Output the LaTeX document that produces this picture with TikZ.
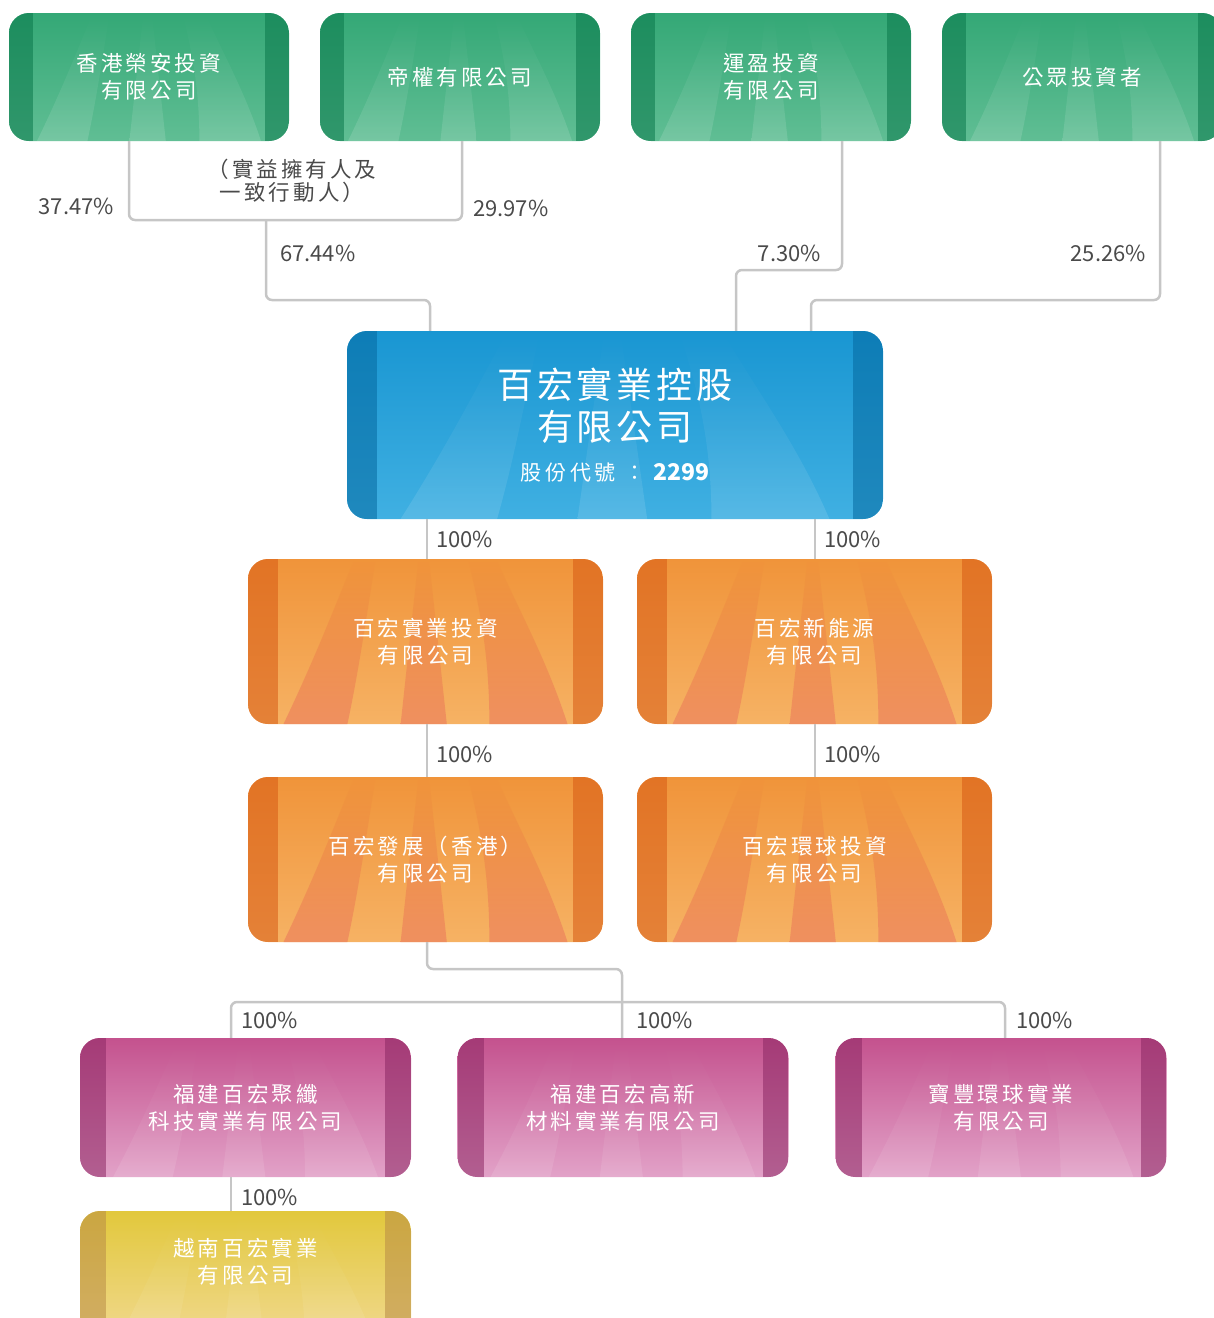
\documentclass[tikz,border=0pt]{standalone}
\usepackage{fontspec}
\setmainfont{Noto Sans CJK TC}
\newfontfamily\boxfont[LetterSpace=14]{Noto Sans CJK TC}
\newfontfamily\bigfont[LetterSpace=11]{Noto Sans CJK TC}
\newfontfamily\codefont[LetterSpace=18]{Noto Sans CJK TC}
\newfontfamily\numfont{Noto Sans CJK TC}
\definecolor{linegray}{HTML}{C6C6C6}
\definecolor{pctgray}{HTML}{4A4A4A}
\definecolor{grtop}{RGB}{52,168,118}
\definecolor{grbot}{RGB}{96,190,148}
\definecolor{grside}{RGB}{10,120,75}
\definecolor{bltop}{RGB}{25,150,210}
\definecolor{blbot}{RGB}{64,176,226}
\definecolor{blside}{RGB}{5,105,160}
\definecolor{ortop}{RGB}{240,148,58}
\definecolor{orbot}{RGB}{246,178,100}
\definecolor{orside}{RGB}{215,90,20}
\definecolor{orstreak}{RGB}{234,116,92}
\definecolor{pptop}{RGB}{196,82,142}
\definecolor{ppbot}{RGB}{226,162,200}
\definecolor{ppside}{RGB}{140,40,100}
\definecolor{yltop}{RGB}{226,200,60}
\definecolor{ylbot}{RGB}{242,218,150}
\definecolor{ylside}{RGB}{185,140,70}
\usetikzlibrary{positioning}
% #1 side colour, #2 streak colour, #3 streak opacity, #4 width, #5 height, #6 strip width, #7 top colour
\newcommand\threadfill[7]{%
  \coordinate (bl) at (path picture bounding box.south west);
  \coordinate (br) at (path picture bounding box.south east);
  \coordinate (tl) at (path picture bounding box.north west);
  \coordinate (tr) at (path picture bounding box.north east);
  \shade[sharp corners, top color=#7, bottom color=#2, opacity=#3]
    ([xshift=.10*#4pt]bl) .. controls ([xshift=.20*#4pt,yshift=.45*#5pt]bl) and ([xshift=.26*#4pt,yshift=.8*#5pt]bl) .. ([xshift=.30*#4pt]tl)
    -- ([xshift=.36*#4pt]tl) .. controls ([xshift=.33*#4pt,yshift=.6*#5pt]bl) and ([xshift=.31*#4pt,yshift=.3*#5pt]bl) .. ([xshift=.28*#4pt]bl) -- cycle;
  \shade[sharp corners, top color=#7, bottom color=#2, opacity=#3]
    ([xshift=.43*#4pt]bl) -- ([xshift=.48*#4pt]tl) -- ([xshift=.51*#4pt]tl) -- ([xshift=.56*#4pt]bl) -- cycle;
  \shade[sharp corners, top color=#7, bottom color=#2, opacity=#3]
    ([xshift=.68*#4pt]bl) .. controls ([xshift=.68*#4pt,yshift=.5*#5pt]bl) and ([xshift=.64*#4pt,yshift=.8*#5pt]bl) .. ([xshift=.62*#4pt]tl)
    -- ([xshift=.70*#4pt]tl) .. controls ([xshift=.76*#4pt,yshift=.7*#5pt]bl) and ([xshift=.84*#4pt,yshift=.4*#5pt]bl) .. ([xshift=.90*#4pt]bl) -- cycle;
  \fill[sharp corners, #1, opacity=.55] (tl) rectangle ([xshift=#6pt]bl);
  \fill[sharp corners, #1, opacity=.55] (tr) rectangle ([xshift=-#6pt]br);}
\tikzset{
  unit/.style={rounded corners=20pt, inner sep=0pt, align=center, text=white,
    font=\boxfont\fontsize{21.5}{27}\selectfont},
  greenbox/.style={unit, minimum width=280pt, minimum height=128pt,
    top color=grtop, bottom color=grbot,
    path picture={\threadfill{grside}{white}{.14}{280}{128}{24}{grtop}}},
  bluebox/.style={unit, minimum width=536pt, minimum height=188pt,
    top color=bltop, bottom color=blbot,
    path picture={\threadfill{blside}{white}{.12}{536}{188}{30}{bltop}}},
  orangebox/.style={unit, minimum width=355pt, minimum height=165pt,
    top color=ortop, bottom color=orbot,
    path picture={\threadfill{orside}{orstreak}{.55}{355}{165}{30}{ortop}}},
  purplebox/.style={unit, minimum width=331pt, minimum height=139pt,
    top color=pptop, bottom color=ppbot,
    path picture={\threadfill{ppside}{white}{.12}{331}{139}{26}{pptop}}},
  yellowbox/.style={unit, minimum width=331pt, minimum height=139pt,
    top color=yltop, bottom color=ylbot,
    path picture={\threadfill{ylside}{white}{.14}{331}{139}{26}{yltop}}},
  link/.style={draw=linegray, line width=2.5pt, rounded corners=6pt},
  pct/.style={text=pctgray, inner sep=0pt, font=\fontsize{22}{24}\selectfont},
}
\begin{document}
\begin{tikzpicture}[x=1pt,y=-1pt]
\useasboundingbox (0,0) rectangle (1214,1318);
% shareholders
\node[greenbox] (hk) at (149,77) {香港榮安投資\\有限公司};
\node[greenbox] (dq) at (460,77) {帝權有限公司};
\node[greenbox] (wy) at (771,77) {運盈投資\\有限公司};
\node[greenbox] (pub) at (1082,77) {公眾投資者};
% listed company
\node[bluebox] (hold) at (615,425) {{\bigfont\fontsize{36}{40}\selectfont 百宏實業控股}\\[7pt]
  {\bigfont\fontsize{36}{40}\selectfont 有限公司}\\[13pt]
  {\codefont\fontsize{21}{24}\selectfont 股份代號 ：}\hspace{8pt}{\numfont\fontsize{23}{24}\selectfont\bfseries 2299}};
% subsidiaries
\node[orangebox] (inv) at (425.5,641.5) {百宏實業投資\\有限公司};
\node[orangebox] (neo) at (814.5,641.5) {百宏新能源\\有限公司};
\node[orangebox] (dev) at (425.5,859.5) {百宏發展（香港）\\有限公司};
\node[orangebox] (glob) at (814.5,859.5) {百宏環球投資\\有限公司};
\node[purplebox] (poly) at (245.5,1107.5) {福建百宏聚纖\\科技實業有限公司};
\node[purplebox] (newm) at (623,1107.5) {福建百宏高新\\材料實業有限公司};
\node[purplebox] (bf) at (1001,1107.5) {寶豐環球實業\\有限公司};
\node[yellowbox] (vn) at (245.5,1280.5)
  {\raisebox{54pt}{\begin{tabular}{@{}c@{}}越南百宏實業\\[0pt]有限公司\end{tabular}}};
% connectors
\coordinate (j1) at (266,220);
\coordinate (j2) at (430,300);
\coordinate (j3) at (736,270);
\coordinate (j4) at (811,300);
\coordinate (k1) at (622,969);
\coordinate (k2) at (622,1002);
\draw[link] ([xshift=-20pt]hk.south) |- (j1) -| ([xshift=2pt]dq.south);
\draw[link] (j1) |- (j2) -- (j2 |- hold.north);
\draw[link] ([xshift=71pt]wy.south) |- (j3) -- (j3 |- hold.north);
\draw[link] ([xshift=78pt]pub.south) |- (j4) -- (j4 |- hold.north);
\draw[link] ([xshift=1.5pt]inv.north) -- ([xshift=1.5pt]inv.north |- hold.south);
\draw[link] ([xshift=0.5pt]neo.north) -- ([xshift=0.5pt]neo.north |- hold.south);
\draw[link] ([xshift=1.5pt]dev.north) -- ([xshift=1.5pt]inv.south);
\draw[link] ([xshift=0.5pt]glob.north) -- ([xshift=0.5pt]neo.south);
\draw[link] ([xshift=1.5pt]dev.south) |- (k1) -- (k1 |- newm.north);
\draw[link] ([xshift=-14.5pt]poly.north) |- (k2) -| ([xshift=4pt]bf.north);
\draw[link] ([xshift=-14.5pt]vn.north) -- ([xshift=-14.5pt]poly.south);
% labels
\node[pct, anchor=east] (p37) at (114,206) {37.47\%};
\node[pct, anchor=west] (p29) at (473,208) {29.97\%};
\node[pct, anchor=west] (p67) at (280,253) {67.44\%};
\node[pct, anchor=east] (p7) at (821,253) {7.30\%};
\node[pct, anchor=east] (p25) at (1146,253) {25.26\%};
\node[pct, align=center, font=\boxfont\fontsize{21.5}{23}\selectfont] (acting) at (292,181) {（實益擁有人及\\一致行動人）};
\node[pct, anchor=west] (q1) at (436,539) {100\%};
\node[pct, anchor=west] (q2) at (824,539) {100\%};
\node[pct, anchor=west] (q3) at (436,754) {100\%};
\node[pct, anchor=west] (q4) at (824,754) {100\%};
\node[pct, anchor=west] (q5) at (241,1020) {100\%};
\node[pct, anchor=west] (q6) at (636,1020) {100\%};
\node[pct, anchor=west] (q7) at (1016,1020) {100\%};
\node[pct, anchor=west] (q8) at (241,1197) {100\%};
\end{tikzpicture}
\end{document}
